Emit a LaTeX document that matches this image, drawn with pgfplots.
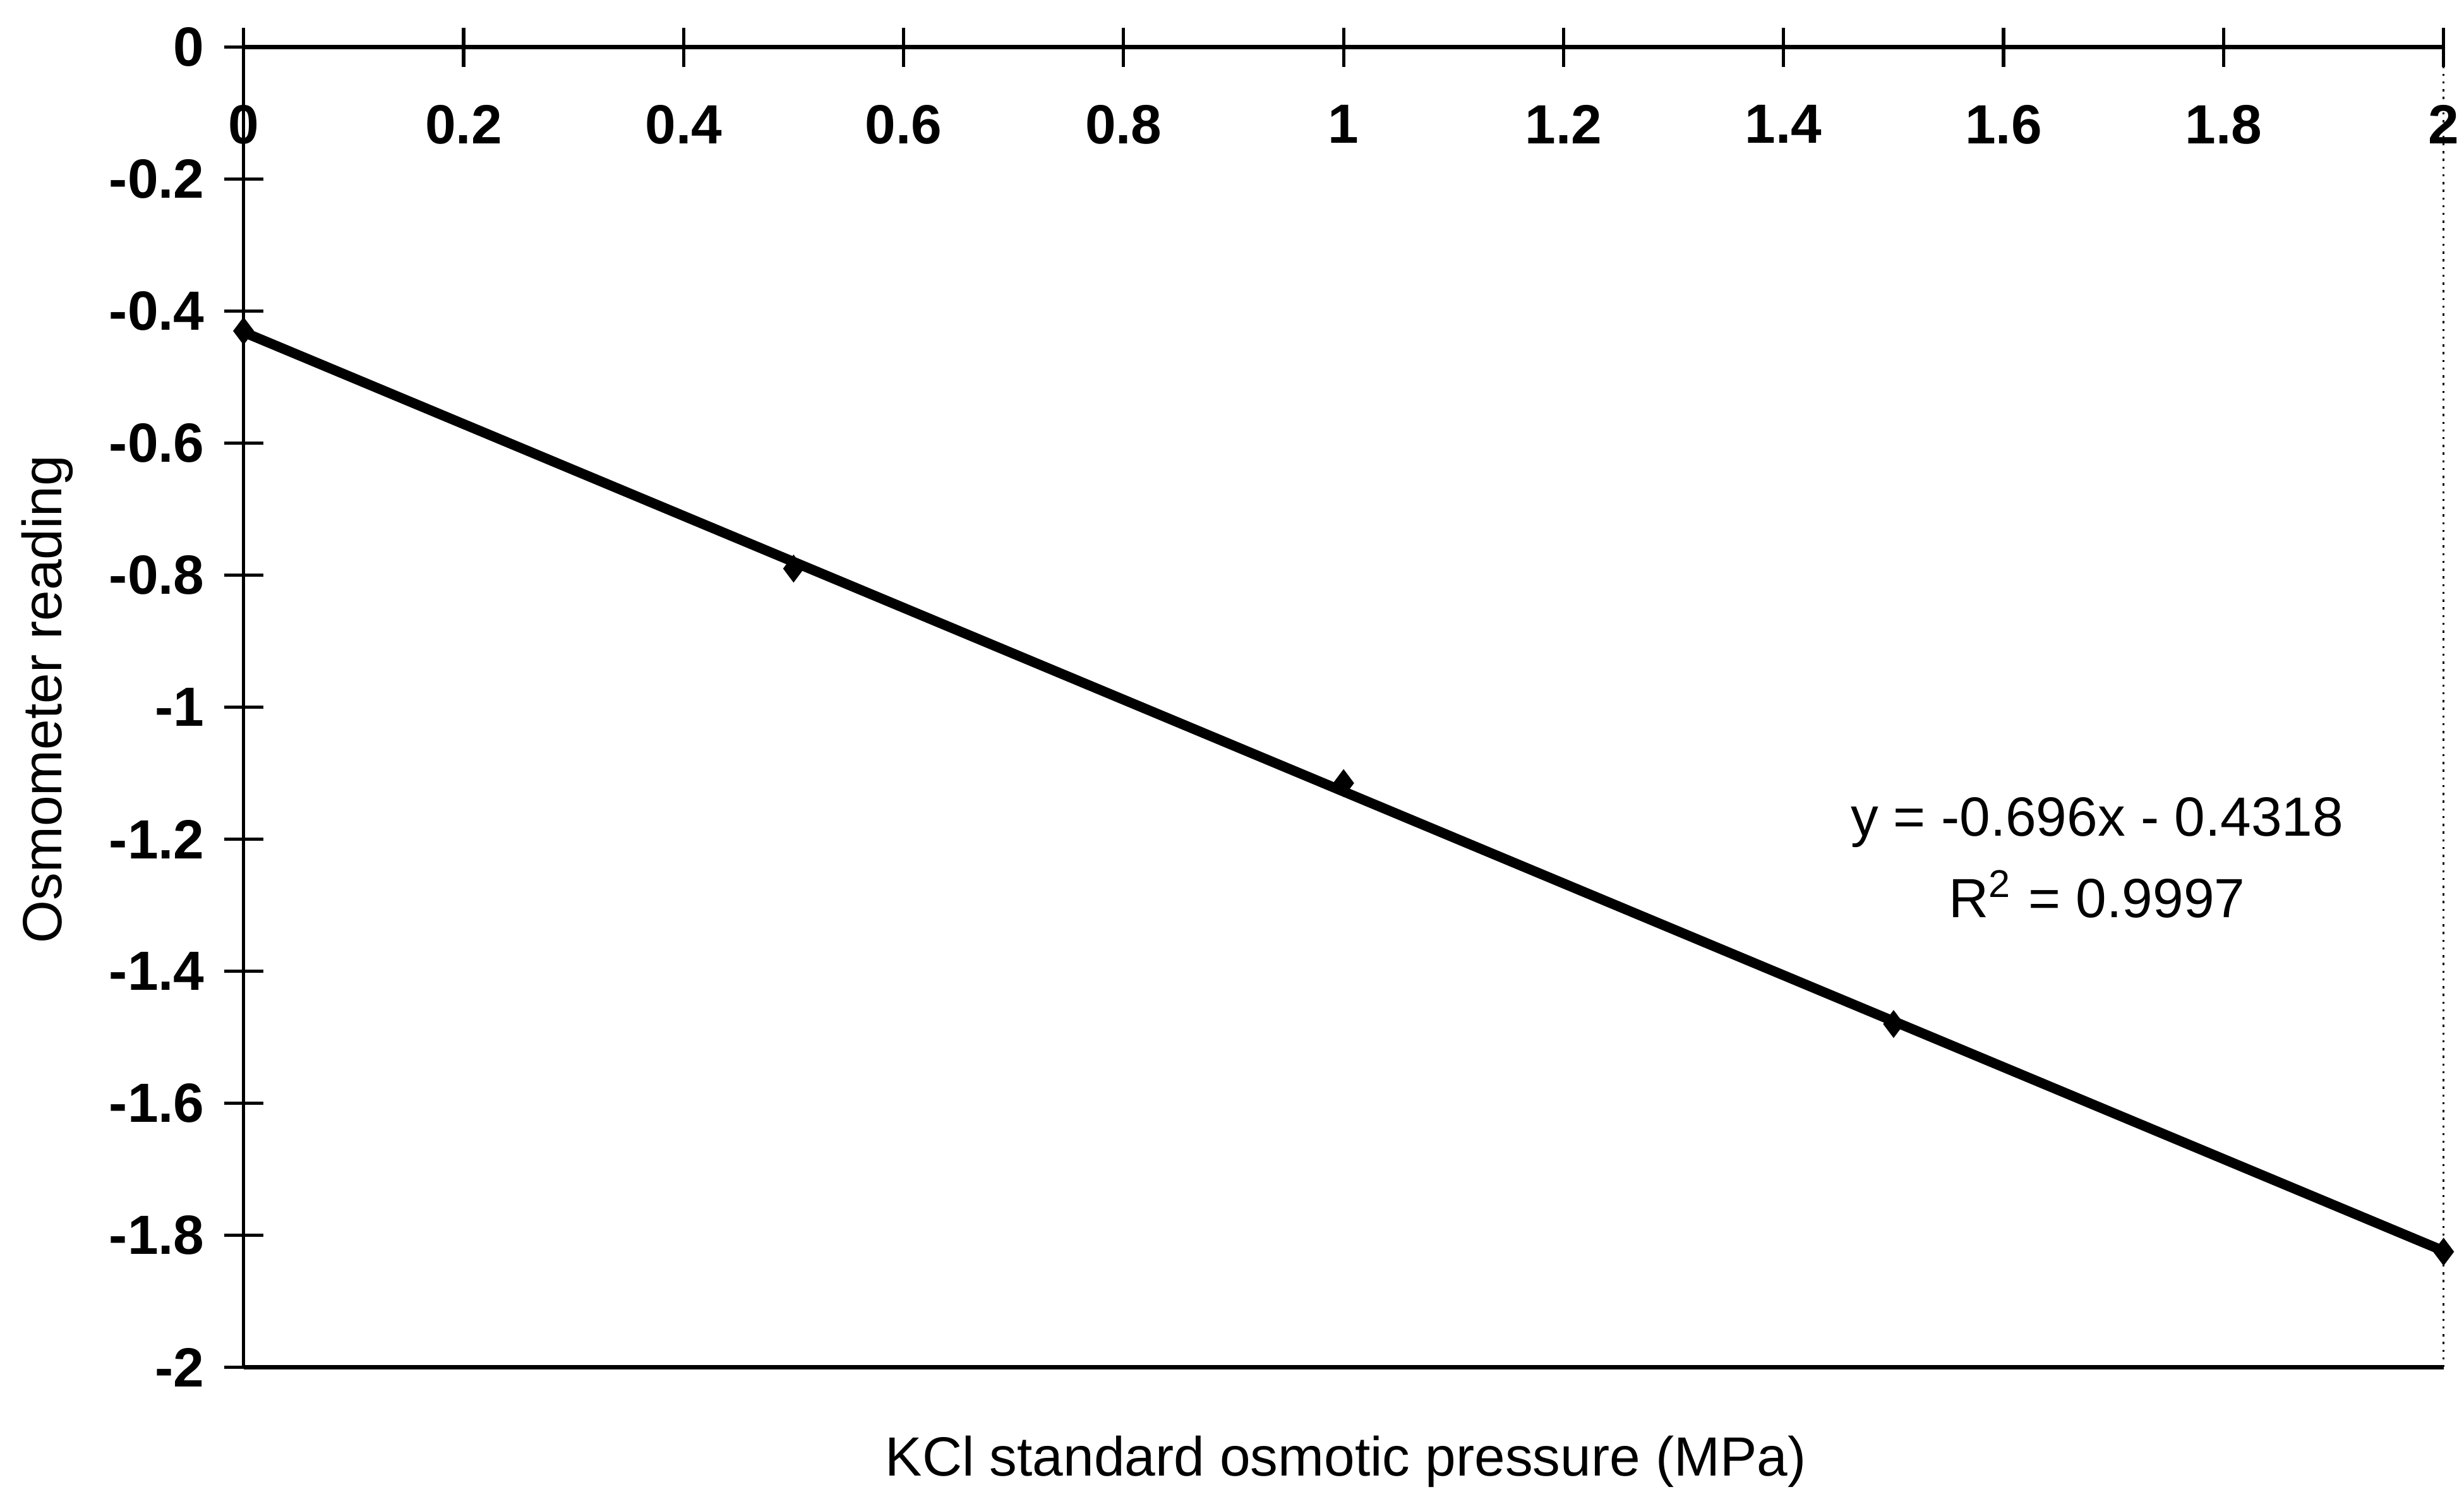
\documentclass[border=0pt]{standalone}
\usepackage{pgfplots}
\pgfplotsset{compat=1.18}
\usepackage{fontspec}
\setmainfont{Liberation Sans}
\begin{document}
\begin{tikzpicture}
\begin{axis}[
  at={(0,0)}, anchor=south west,
  scale only axis, width=140mm, height=84mm,
  xmin=0, xmax=2, ymin=-2, ymax=0,
  axis line style={draw=none},
  xtick={0,0.2,0.4,0.6,0.8,1,1.2,1.4,1.6,1.8,2},
  ytick={-2,-1.8,-1.6,-1.4,-1.2,-1,-0.8,-0.6,-0.4,-0.2,0},
  xtick pos=right, xticklabel pos=right,
  ytick pos=left,
  tick align=center, major tick length=2.5mm,
  tick style={black, line width=0.6pt},
  xticklabel style={anchor=north, yshift=-3.7mm, font=\bfseries\fontsize{10}{12}\selectfont},
  yticklabel style={xshift=0mm, font=\bfseries\fontsize{10}{12}\selectfont},
  /pgf/number format/assume math mode=true,
  /pgf/number format/fixed,
  xlabel={KCl standard osmotic pressure (MPa)},
  ylabel={Osmometer reading},
  xlabel style={at={(axis description cs:0.501,0)}, anchor=center, yshift=-6mm, font=\fontsize{10}{12}\selectfont},
  ylabel style={at={(axis description cs:-0.0893,0.506)}, anchor=center, font=\fontsize{10}{12}\selectfont},
  clip=false,
]
\addplot[only marks, mark=diamond*, mark size=2.2pt, black] coordinates {
  (0,-0.43) (0.5,-0.79) (1,-1.115) (1.5,-1.48) (2,-1.825)
};
\addplot[black, line width=1.8pt, no marks] coordinates {
  (0,-0.4318) (2,-1.8238)
};
\draw[line width=0.8pt] (rel axis cs:0,1) -- (rel axis cs:1,1);
\draw[line width=0.5pt] (rel axis cs:0,0) -- (rel axis cs:0,1);
\draw[line width=0.7pt] (rel axis cs:0,0) -- (rel axis cs:1,0);
\draw[line width=0.4pt, densely dotted] (rel axis cs:1,0) -- (rel axis cs:1,1);
\node[align=center, font=\fontsize{10}{14.8}\selectfont] at (axis cs:1.685,-1.228)
  {y = -0.696x - 0.4318\\R\textsuperscript{2} = 0.9997};
\end{axis}
\pgfresetboundingbox
\path[use as bounding box] (-15.5mm,-7.9mm) rectangle (141.3mm,87mm);
\end{tikzpicture}
\end{document}
